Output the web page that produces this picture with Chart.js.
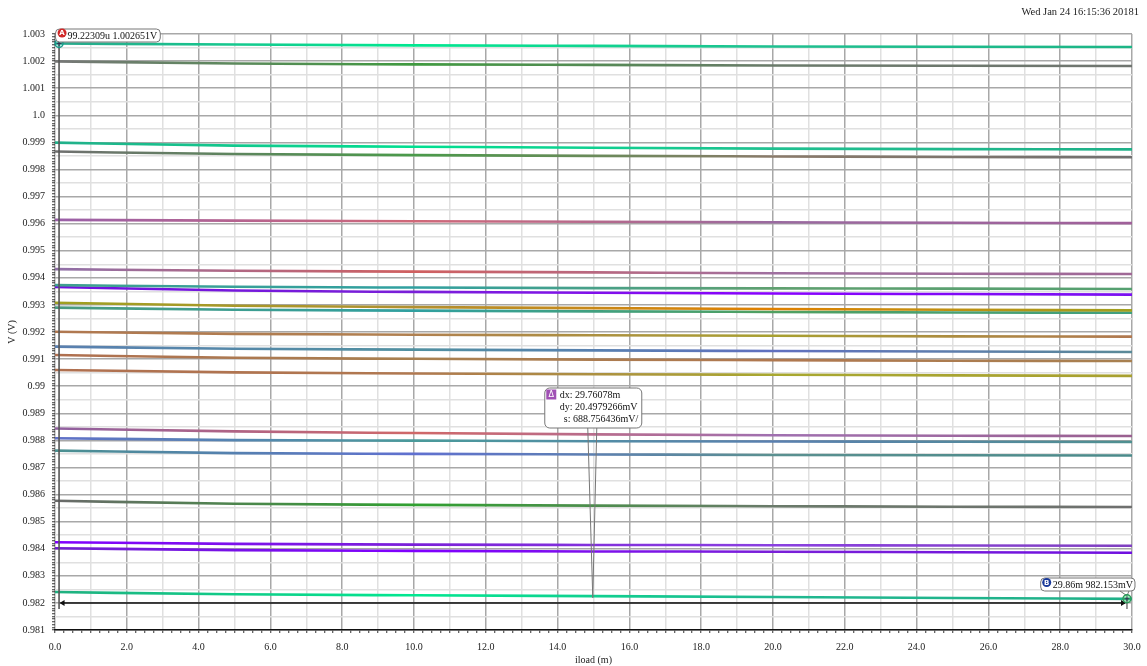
<!DOCTYPE html>
<html>
<head>
<meta charset="utf-8">
<script src="https://cdn.jsdelivr.net/npm/chart.js@4"></script>
<style>
  html, body { margin: 0; padding: 0; background: #fff; overflow: hidden; }
  #wrap { width: 1147px; height: 666px; position: relative; }
</style>
</head>
<body>
<div id="wrap"><canvas id="c" width="1147" height="666"></canvas></div>
<script>
// Sweep points of the load current (mA)
const iload = [0, 5, 10, 15, 20, 25, 30];

// Output voltage (V) of each corner run, one array per trace
const v01 = [1.00265, 1.00261, 1.00258, 1.00256, 1.00254, 1.00253, 1.00252];
const v02 = [1.00199, 1.00191, 1.00188, 1.00186, 1.00184, 1.00183, 1.00182];
const v03 = [0.99899, 0.99888, 0.99884, 0.99880, 0.99877, 0.99875, 0.99874];
const v04 = [0.99866, 0.99857, 0.99853, 0.99850, 0.99848, 0.99846, 0.99845];
const v05 = [0.99614, 0.99611, 0.99609, 0.99607, 0.99605, 0.99603, 0.99602];
const v06 = [0.99432, 0.99426, 0.99423, 0.99420, 0.99417, 0.99415, 0.99414];
const v07 = [0.99373, 0.99367, 0.99364, 0.99362, 0.99361, 0.99360, 0.99359];
const v08 = [0.99366, 0.99353, 0.99348, 0.99345, 0.99342, 0.99340, 0.99338];
const v09 = [0.99308, 0.99297, 0.99292, 0.99288, 0.99285, 0.99282, 0.99280];
const v10 = [0.99290, 0.99282, 0.99279, 0.99276, 0.99274, 0.99272, 0.99271];
const v11 = [0.99201, 0.99193, 0.99190, 0.99188, 0.99186, 0.99184, 0.99183];
const v12 = [0.99146, 0.99138, 0.99135, 0.99132, 0.99130, 0.99128, 0.99126];
const v13 = [0.99115, 0.99105, 0.99101, 0.99098, 0.99096, 0.99094, 0.99093];
const v14 = [0.99060, 0.99051, 0.99047, 0.99044, 0.99042, 0.99040, 0.99038];
const v15 = [0.98844, 0.98833, 0.98827, 0.98822, 0.98819, 0.98817, 0.98816];
const v16 = [0.98808, 0.98801, 0.98799, 0.98797, 0.98796, 0.98795, 0.98794];
const v17 = [0.98762, 0.98753, 0.98750, 0.98748, 0.98746, 0.98745, 0.98744];
const v18 = [0.98577, 0.98566, 0.98562, 0.98559, 0.98557, 0.98555, 0.98554];
const v19 = [0.98424, 0.98418, 0.98415, 0.98414, 0.98413, 0.98412, 0.98411];
const v20 = [0.98402, 0.98395, 0.98392, 0.98390, 0.98389, 0.98387, 0.98385];
const v21 = [0.98240, 0.98232, 0.98228, 0.98225, 0.98222, 0.98218, 0.98215];

// Markers and the delta readout between them
const markerA = { x: 0.09922309, y: 1.002651, text: '99.22309u 1.002651V' };
const markerB = { x: 29.86, y: 0.982153, text: '29.86m 982.153mV' };
const deltaLines = ['dx: 29.76078m', 'dy: 20.4979266mV', 's: 688.756436mV/'];
const stamp = 'Wed Jan 24 16:15:36 20181';

// Trace colours (left to right colour stops, overlapping corners blend)
const traces = [
  [v01, ['#2aa88c', '#00e890', '#1fc090', '#1db586']],
  [v02, ['#777777', '#3f9a3f', '#6a7a6a', '#707570']],
  [v03, ['#22b08a', '#00e090', '#20c090', '#1fb088']],
  [v04, ['#707070', '#4a9a4a', '#8a7a6a', '#707070']],
  [v05, ['#9a60a8', '#d06878', '#9a6aa0', '#a0609a']],
  [v06, ['#9070a8', '#d06060', '#a070a0', '#a06896']],
  [v07, ['#3fa090', '#30a0a0', '#60a070', '#55a070']],
  [v08, ['#7010e0', '#7a20d8', '#8800ff', '#7a10f0']],
  [v09, ['#a0a020', '#b09030', '#e08000', '#a0a020']],
  [v10, ['#4a9a80', '#30a0a0', '#50a060', '#40a080']],
  [v11, ['#b07850', '#b08050', '#a8a030', '#b07850']],
  [v12, ['#5a80b0', '#5090a0', '#6070c0', '#5a8a98']],
  [v13, ['#b07050', '#a88050', '#b07850', '#a88050']],
  [v14, ['#b07050', '#b07850', '#a8a830', '#a8a030']],
  [v15, ['#9060a0', '#d06868', '#a070b0', '#9a6090']],
  [v16, ['#6070c8', '#4a9a9a', '#5a80b0', '#4f9090']],
  [v17, ['#4a9090', '#6070d0', '#5a9090', '#4a8a8a']],
  [v18, ['#6a6a6a', '#30a030', '#6a7a6a', '#6f706f']],
  [v19, ['#8000ff', '#7a20d8', '#8a40e0', '#8040c0']],
  [v20, ['#7020d0', '#8000ff', '#7a20d8', '#7010e0']],
  [v21, ['#20b080', '#00e890', '#20b890', '#20b088']]
];

function gradient(stops) {
  return (c) => {
    const a = c.chart.chartArea;
    if (!a) return stops[0];
    const g = c.chart.ctx.createLinearGradient(a.left, 0, a.right, 0);
    stops.forEach((s, i) => g.addColorStop(i / (stops.length - 1), s));
    return g;
  };
}

const datasets = traces.map(([vals, stops], k) => ({
  label: 'V' + (k + 1),
  data: iload.map((x, i) => ({ x: x, y: vals[i] })),
  borderColor: gradient(stops),
  borderWidth: 2.6,
  pointRadius: 0,
  cubicInterpolationMode: 'monotone',
  fill: false
}));

const SERIF = '"Liberation Serif", "DejaVu Serif", serif';

function roundRect(ctx, x, y, w, h, r) {
  ctx.beginPath();
  ctx.moveTo(x + r, y);
  ctx.lineTo(x + w - r, y);
  ctx.arcTo(x + w, y, x + w, y + r, r);
  ctx.lineTo(x + w, y + h - r);
  ctx.arcTo(x + w, y + h, x + w - r, y + h, r);
  ctx.lineTo(x + r, y + h);
  ctx.arcTo(x, y + h, x, y + h - r, r);
  ctx.lineTo(x, y + r);
  ctx.arcTo(x, y, x + r, y, r);
  ctx.closePath();
}

function badge(ctx, x, y, fill, ch) {
  ctx.beginPath();
  ctx.arc(x, y, 4.5, 0, Math.PI * 2);
  ctx.fillStyle = fill;
  ctx.fill();
  ctx.fillStyle = '#fff';
  ctx.font = 'bold 7px "DejaVu Sans", sans-serif';
  ctx.textAlign = 'center';
  ctx.textBaseline = 'middle';
  ctx.fillText(ch, x, y + 0.5);
}

function markerSymbol(ctx, x, y, stroke, fill) {
  ctx.beginPath();
  ctx.arc(x, y, 4, 0, Math.PI * 2);
  ctx.fillStyle = fill;
  ctx.fill();
  ctx.lineWidth = 1.5;
  ctx.strokeStyle = stroke;
  ctx.stroke();
  ctx.beginPath();
  ctx.moveTo(x - 2.5, y); ctx.lineTo(x + 2.5, y);
  ctx.moveTo(x, y - 2.5); ctx.lineTo(x, y + 2.5);
  ctx.lineWidth = 1;
  ctx.strokeStyle = '#335';
  ctx.stroke();
}

const markersPlugin = {
  id: 'markers',
  afterDatasetsDraw(chart) {
    const { ctx, scales: { x, y }, chartArea } = chart;
    const xa = x.getPixelForValue(markerA.x), ya = y.getPixelForValue(markerA.y);
    const xb = x.getPixelForValue(markerB.x), yb = y.getPixelForValue(markerB.y);
    const yArrow = y.getPixelForValue(0.982);
    ctx.save();

    // vertical cursor of marker A
    ctx.beginPath();
    ctx.moveTo(xa + 0.5, chartArea.top);
    ctx.lineTo(xa + 0.5, yArrow + 6);
    ctx.lineWidth = 1.6;
    ctx.strokeStyle = '#555';
    ctx.stroke();

    // dx arrow between the markers
    ctx.beginPath();
    ctx.moveTo(xa + 2, yArrow);
    ctx.lineTo(xb - 2, yArrow);
    ctx.lineWidth = 1.5;
    ctx.strokeStyle = '#111';
    ctx.stroke();
    ctx.fillStyle = '#111';
    ctx.beginPath();
    ctx.moveTo(xa + 1, yArrow); ctx.lineTo(xa + 6, yArrow - 3); ctx.lineTo(xa + 6, yArrow + 3); ctx.closePath();
    ctx.fill();
    ctx.beginPath();
    ctx.moveTo(xb - 1, yArrow); ctx.lineTo(xb - 6, yArrow - 3); ctx.lineTo(xb - 6, yArrow + 3); ctx.closePath();
    ctx.fill();
    ctx.beginPath();
    ctx.moveTo(xb, yb); ctx.lineTo(xb, yArrow + 6);
    ctx.lineWidth = 1.2;
    ctx.strokeStyle = '#555';
    ctx.stroke();

    // delta readout with pointer to the midpoint
    const xm = (xa + xb) / 2;
    const bx = xm - 48, by = 388, bw = 97, bh = 40;
    ctx.beginPath();
    ctx.moveTo(xm - 5, by + bh); ctx.lineTo(xm, yb - 1); ctx.lineTo(xm + 4, by + bh);
    ctx.lineWidth = 1;
    ctx.strokeStyle = '#777';
    ctx.stroke();
    roundRect(ctx, bx, by, bw, bh, 5);
    ctx.fillStyle = '#fff';
    ctx.fill();
    ctx.lineWidth = 1;
    ctx.strokeStyle = '#777';
    ctx.stroke();
    ctx.fillStyle = '#a050b4';
    ctx.fillRect(bx + 1.5, by + 1.5, 10, 10);
    ctx.fillStyle = '#fff';
    ctx.font = '8px "DejaVu Sans", sans-serif';
    ctx.textAlign = 'center';
    ctx.textBaseline = 'middle';
    ctx.fillText('\u0394', bx + 6.5, by + 7);
    ctx.fillStyle = '#111';
    ctx.font = '10px ' + SERIF;
    ctx.textAlign = 'left';
    ctx.textBaseline = 'middle';
    ctx.fillText(deltaLines[0], bx + 15, by + 7.5);
    ctx.fillText(deltaLines[1], bx + 15, by + 19.5);
    ctx.fillText(deltaLines[2], bx + 19, by + 31.5);

    // marker A symbol and label
    markerSymbol(ctx, xa + 0.5, ya, '#1a9a8a', 'rgba(40,200,170,0.35)');
    ctx.font = '10px ' + SERIF;
    const wa = ctx.measureText(markerA.text).width;
    roundRect(ctx, xa - 3, 29, wa + 15, 13, 4);
    ctx.fillStyle = '#fff';
    ctx.fill();
    ctx.strokeStyle = '#777';
    ctx.lineWidth = 1;
    ctx.stroke();
    ctx.fillStyle = '#111';
    ctx.textAlign = 'left';
    ctx.textBaseline = 'middle';
    ctx.fillText(markerA.text, xa + 9, 36);
    badge(ctx, xa + 3.5, 33, '#d02828', 'A');

    // marker B symbol and label
    ctx.font = '10px ' + SERIF;
    const wb = ctx.measureText(markerB.text).width;
    const lbx = xb + 8 - (wb + 14), lby = 578;
    roundRect(ctx, lbx, lby, wb + 14, 13, 4);
    ctx.fillStyle = '#fff';
    ctx.fill();
    ctx.strokeStyle = '#777';
    ctx.stroke();
    ctx.beginPath();
    ctx.moveTo(xb - 7, lby + 13); ctx.lineTo(xb, yb - 3); ctx.lineTo(xb + 2, lby + 13);
    ctx.strokeStyle = '#777';
    ctx.stroke();
    ctx.fillStyle = '#111';
    ctx.textAlign = 'left';
    ctx.textBaseline = 'middle';
    ctx.fillText(markerB.text, lbx + 12, lby + 7);
    badge(ctx, lbx + 6, lby + 4.5, '#1a3a9a', 'B');
    markerSymbol(ctx, xb, yb, '#2a9a5a', 'rgba(80,210,120,0.45)');

    // timestamp
    ctx.fillStyle = '#222';
    ctx.font = '10.5px ' + SERIF;
    ctx.textAlign = 'right';
    ctx.textBaseline = 'middle';
    ctx.fillText(stamp, 1139, 12);
    ctx.restore();
  }
};

function yLabel(v) {
  const n = Math.round(v * 10000);
  if (n % 10 !== 0) return '';
  const s = (n / 10000).toFixed(3).replace(/0+$/, '');
  return s.endsWith('.') ? s + '0' : s;
}
function xLabel(v) {
  const n = Math.round(v * 4);
  return n % 8 === 0 ? (n / 4).toFixed(1) : '';
}

new Chart(document.getElementById('c'), {
  type: 'line',
  data: { datasets },
  options: {
    responsive: false,
    animation: false,
    events: [],
    layout: { padding: { top: 34, right: 15, left: 0, bottom: 0 } },
    plugins: { legend: { display: false }, title: { display: false }, tooltip: { enabled: false } },
    scales: {
      x: {
        type: 'linear',
        min: 0, max: 30,
        afterFit(s) { s.height = 36; s.paddingRight = 0; s.paddingLeft = 0; },
        border: { display: true, color: '#111', width: 1.5 },
        grid: {
          color: (c) => {
            const n = Math.round(c.tick.value * 4);
            return n % 8 === 0 ? '#a8a8a8' : (n % 4 === 0 ? '#e0e0e0' : 'rgba(0,0,0,0)');
          },
          lineWidth: 1.5,
          tickColor: '#333',
          tickWidth: 1,
          tickLength: 3
        },
        ticks: {
          stepSize: 0.25,
          autoSkip: false,
          maxRotation: 0,
          padding: 8,
          color: '#222',
          font: { family: SERIF, size: 10 },
          callback: xLabel
        },
        title: {
          display: true,
          text: 'iload (m)',
          color: '#222',
          font: { family: SERIF, size: 10 },
          padding: { top: 0, bottom: 0 }
        }
      },
      y: {
        min: 0.981, max: 1.003,
        afterFit(s) { s.width = 55; },
        border: { display: false },
        grid: {
          color: (c) => {
            const n = Math.round(c.tick.value * 10000);
            return n % 10 === 0 ? '#a8a8a8' : (n % 5 === 0 ? '#e0e0e0' : 'rgba(0,0,0,0)');
          },
          lineWidth: 1.5,
          tickColor: '#333',
          tickWidth: 1,
          tickLength: 3
        },
        ticks: {
          stepSize: 0.0001,
          autoSkip: false,
          padding: 7,
          color: '#222',
          font: { family: SERIF, size: 10 },
          callback: yLabel
        },
        title: {
          display: true,
          text: 'V (V)',
          color: '#222',
          font: { family: SERIF, size: 10 },
          padding: { top: 6, bottom: 0 }
        }
      }
    }
  },
  plugins: [markersPlugin]
});
</script>
</body>
</html>
